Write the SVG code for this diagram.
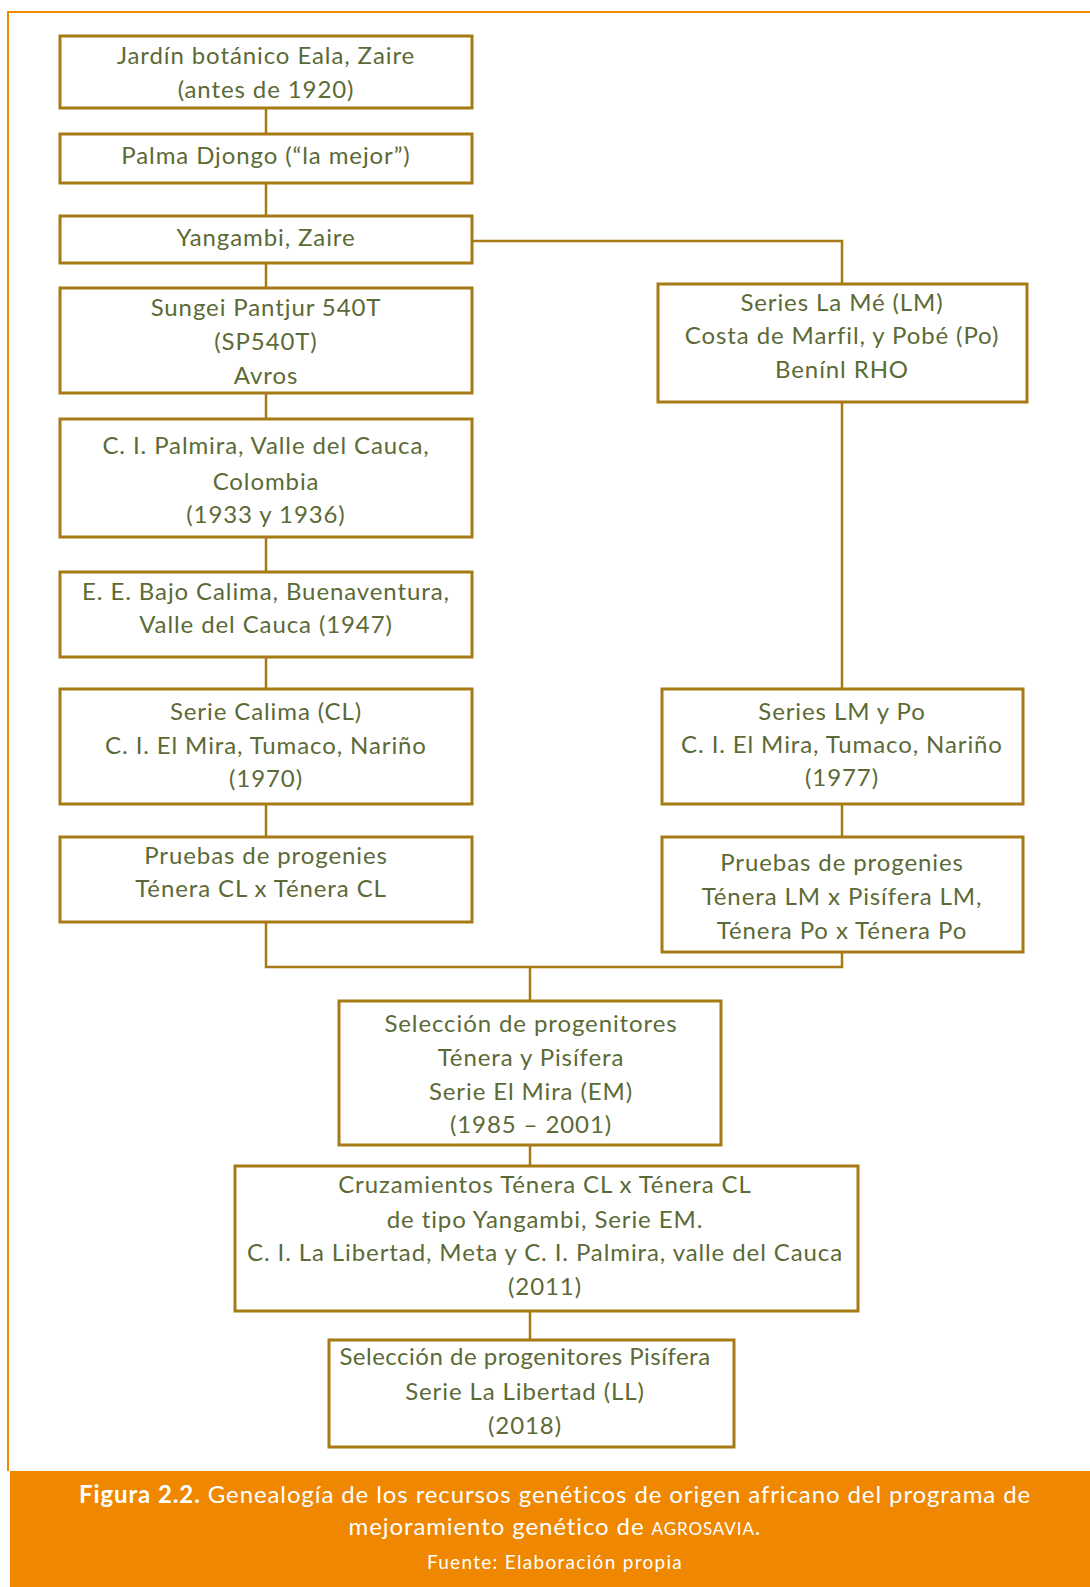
<svg xmlns="http://www.w3.org/2000/svg" width="1090" height="1587" viewBox="0 0 1090 1587">
<style>
.box{fill:#fff;stroke:#a67a14;stroke-width:3}
.con{fill:none;stroke:#a67a14;stroke-width:2.5}
.t{font-family:Lato,"Noto Sans",sans-serif;font-size:24px;letter-spacing:0.9px;fill:#5b6a36;text-anchor:middle}
.t.n{letter-spacing:0.5px}
.cap{font-family:Lato,"Noto Sans",sans-serif;font-size:24px;letter-spacing:0.9px;fill:#fff;text-anchor:middle}
.src{font-family:Lato,"Noto Sans",sans-serif;font-size:19px;letter-spacing:1.3px;fill:#fff;text-anchor:middle}
</style>
<rect x="0" y="0" width="1090" height="1587" fill="#fff"/>
<path d="M8,1471 V12 H1090" fill="none" stroke="#f08a00" stroke-width="2"/>
<g id="connectors" class="con">
<path d="M266,108 V134 M266,183 V216 M266,263 V288 M266,393 V419 M266,537 V572 M266,657 V689 M266,804 V837"/>
<path d="M472,241 H842 V284 M842,402 V689 M842,804 V837"/>
<path d="M266,922 V967 H842 V952 M530,967 V1001 M530,1145 V1166 M530,1311 V1340"/>
</g>
<g id="n1"><rect class="box" x="60" y="36" width="412" height="72"/><text class="t" x="266" y="64">Jardín botánico Eala, Zaire</text><text class="t" x="266" y="98">(antes de 1920)</text></g>
<g id="n2"><rect class="box" x="60" y="134" width="412" height="49"/><text class="t" x="266" y="164">Palma Djongo (“la mejor”)</text></g>
<g id="n3"><rect class="box" x="60" y="216" width="412" height="47"/><text class="t" x="266" y="246">Yangambi, Zaire</text></g>
<g id="n4"><rect class="box" x="60" y="288" width="412" height="105"/><text class="t" x="266" y="316">Sungei Pantjur 540T</text><text class="t" x="266" y="350">(SP540T)</text><text class="t" x="266" y="384">Avros</text></g>
<g id="n5"><rect class="box" x="60" y="419" width="412" height="118"/><text class="t" x="266" y="454">C. I. Palmira, Valle del Cauca,</text><text class="t" x="266" y="490">Colombia</text><text class="t" x="266" y="523">(1933 y 1936)</text></g>
<g id="n6"><rect class="box" x="60" y="572" width="412" height="85"/><text class="t" x="266" y="600">E. E. Bajo Calima, Buenaventura,</text><text class="t" x="266" y="633">Valle del Cauca (1947)</text></g>
<g id="n7"><rect class="box" x="60" y="689" width="412" height="115"/><text class="t" x="266" y="720">Serie Calima (CL)</text><text class="t" x="266" y="754">C. I. El Mira, Tumaco, Nariño</text><text class="t" x="266" y="787">(1970)</text></g>
<g id="n8"><rect class="box" x="60" y="837" width="412" height="85"/><text class="t" x="266" y="864">Pruebas de progenies</text><text class="t" x="261" y="897">Ténera CL x Ténera CL</text></g>
<g id="n9"><rect class="box" x="658" y="284" width="369" height="118"/><text class="t" x="842" y="311">Series La Mé (LM)</text><text class="t" x="842" y="344">Costa de Marfil, y Pobé (Po)</text><text class="t" x="842" y="378">Benínl RHO</text></g>
<g id="n10"><rect class="box" x="662" y="689" width="361" height="115"/><text class="t" x="842" y="720">Series LM y Po</text><text class="t" x="842" y="753">C. I. El Mira, Tumaco, Nariño</text><text class="t" x="842" y="786">(1977)</text></g>
<g id="n11"><rect class="box" x="662" y="837" width="361" height="115"/><text class="t" x="842" y="871">Pruebas de progenies</text><text class="t" x="842" y="905">Ténera LM x Pisífera LM,</text><text class="t" x="842" y="939">Ténera Po x Ténera Po</text></g>
<g id="n12"><rect class="box" x="339" y="1001" width="382" height="144"/><text class="t" x="531" y="1032">Selección de progenitores</text><text class="t" x="531" y="1066">Ténera y Pisífera</text><text class="t" x="531" y="1100">Serie El Mira (EM)</text><text class="t" x="531" y="1133">(1985 – 2001)</text></g>
<g id="n13"><rect class="box" x="235" y="1166" width="623" height="145"/><text class="t" x="545" y="1193">Cruzamientos Ténera CL x Ténera CL</text><text class="t" x="545" y="1228">de tipo Yangambi, Serie EM.</text><text class="t" x="545" y="1261">C. I. La Libertad, Meta y C. I. Palmira, valle del Cauca</text><text class="t" x="545" y="1295">(2011)</text></g>
<g id="n14"><rect class="box" x="329" y="1340" width="405" height="107"/><text class="t n" x="525" y="1365">Selección de progenitores Pisífera</text><text class="t" x="525" y="1400">Serie La Libertad (LL)</text><text class="t" x="525" y="1434">(2018)</text></g>
<g id="caption">
<rect x="10" y="1471" width="1080" height="116" fill="#ef8800"/>
<text class="cap" x="555" y="1503"><tspan font-weight="bold">Figura 2.2.</tspan> Genealogía de los recursos genéticos de origen africano del programa de</text>
<text class="cap" x="555" y="1535">mejoramiento genético de <tspan font-size="17px">AGROSAVIA</tspan>.</text>
<text class="src" x="555" y="1569">Fuente: Elaboración propia</text>
</g>
</svg>
